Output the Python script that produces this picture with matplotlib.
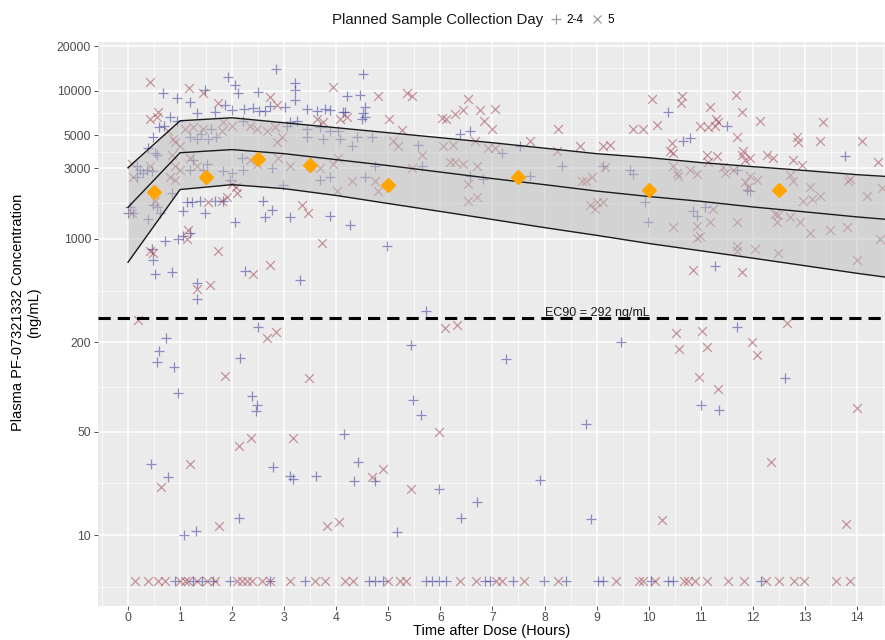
import numpy as np
import matplotlib
matplotlib.use("Agg")
import matplotlib.pyplot as plt
from matplotlib.lines import Line2D

plt.rcParams['font.family'] = ['Liberation Sans', 'DejaVu Sans']

# --- data ---
# Planned sample collection day 2-4 (plus markers): (hours, ng/mL)
pts_day24 = [
    (2.84, 14000), (1.92, 12400), (2.05, 10900), (1.48, 10100), (0.67, 9650),
    (0.94, 8900), (1.19, 8400), (2.12, 9650), (2.50, 9800), (3.20, 11200),
    (3.20, 10100), (3.20, 8700), (3.02, 7700), (2.22, 7500), (2.40, 7600),
    (2.52, 7300), (2.63, 7300), (2.72, 7900), (3.44, 7500), (3.63, 7300),
    (3.78, 7500), (1.33, 7100), (1.67, 7200), (1.87, 8000), (2.00, 7400),
    (0.80, 6600), (0.94, 6200), (0.60, 5700), (0.70, 5800), (2.20, 6200),
    (1.60, 5500), (1.70, 4900), (1.40, 5100), (1.20, 4900), (1.33, 4700),
    (1.54, 4700), (3.24, 6200), (3.44, 5500), (3.69, 5700), (3.88, 5300),
    (4.03, 5300), (3.44, 4900), (3.75, 4700), (3.05, 5800), (3.11, 6100),
    (3.88, 7400), (4.13, 7200), (0.48, 4900), (0.52, 3800), (0.56, 3700),
    (0.38, 4100), (0.17, 3100), (0.23, 2900), (0.36, 2900), (0.46, 2850),
    (0.17, 2600), (0.29, 2800), (1.52, 3200), (1.45, 2900), (1.25, 3400),
    (1.19, 2900), (2.20, 2900), (2.00, 2800), (1.83, 2850), (1.96, 2500),
    (2.19, 3500), (2.98, 2300), (2.77, 3000), (3.69, 2500), (3.88, 2600),
    (0.04, 1650), (0.10, 1500), (0.00, 1500), (0.38, 1350), (0.48, 1700),
    (0.56, 1650), (0.62, 1500), (0.85, 2050), (1.06, 1530), (1.13, 1770),
    (1.23, 1770), (1.38, 1800), (1.48, 1500), (1.67, 1800), (1.83, 1800),
    (2.05, 1300), (2.60, 1800), (2.77, 1570), (2.63, 1400), (3.11, 1400),
    (3.88, 1430), (0.96, 1000), (1.06, 1050), (1.19, 1100), (0.71, 960),
    (0.46, 850), (0.48, 720), (0.52, 575), (0.85, 600), (2.25, 610),
    (3.30, 530), (1.33, 505),
    (4.51, 13000), (4.20, 9200), (4.45, 9400), (4.17, 7200), (4.55, 7700),
    (4.51, 7100), (4.50, 6400), (4.55, 6600), (6.37, 5100), (6.57, 5300),
    (4.07, 4700), (4.30, 4200), (4.40, 4900), (4.69, 4900), (5.57, 4300),
    (7.18, 3800), (7.53, 4200), (8.33, 3100), (5.65, 3100), (4.55, 2600),
    (4.74, 3100), (6.57, 2650), (6.82, 2550), (7.72, 2650), (4.26, 1230),
    (4.97, 900),
    (10.37, 7200), (11.51, 5800), (10.79, 4800), (10.66, 4600), (13.77, 3600),
    (9.12, 3100), (9.64, 2900), (9.70, 2750), (11.70, 2900), (11.95, 2100),
    (11.89, 2150), (9.93, 1770), (9.98, 1300), (10.85, 1530), (10.93, 1430),
    (11.08, 1650), (11.27, 660),
    (1.33, 392), (0.73, 214), (0.60, 175), (0.56, 148), (0.88, 137),
    (0.96, 91), (2.50, 254), (2.15, 157), (2.38, 87), (2.48, 75),
    (2.46, 69), (0.44, 30), (0.77, 24.5), (2.78, 28.6), (3.11, 24.9),
    (3.17, 23.8), (3.61, 25), (4.15, 48), (4.42, 31), (4.34, 23),
    (4.75, 23), (1.08, 10), (1.31, 10.6), (2.13, 13), (5.17, 10.5),
    (5.72, 325), (5.43, 192), (5.47, 81), (5.63, 65), (5.97, 20.6),
    (6.40, 13), (6.70, 16.6), (7.26, 155), (8.80, 56.5), (7.91, 23.4),
    (8.90, 12.8), (9.47, 201), (11.70, 254), (11.00, 76), (11.35, 70),
    (12.62, 115),
]

# Planned sample collection day 5 (cross markers): (hours, ng/mL)
pts_day5 = [
    (0.42, 11500), (1.17, 10400), (1.45, 9650), (1.73, 8200), (2.73, 9000),
    (3.94, 10600), (2.86, 8000), (0.58, 7200), (0.42, 6400), (0.56, 6600),
    (0.77, 5300), (1.83, 6100), (2.00, 5800), (1.80, 5300), (1.10, 5500),
    (0.86, 4700), (0.90, 4500), (1.00, 4200), (1.25, 5700), (1.44, 5500),
    (2.34, 5800), (2.48, 5500), (2.67, 5300), (2.82, 5700), (2.96, 4900),
    (2.86, 4500), (3.63, 6400), (3.75, 6100), (4.07, 6400), (4.20, 6600),
    (0.08, 3200), (0.42, 3100), (0.10, 2600), (0.85, 3700), (0.90, 3100),
    (0.80, 2600), (0.90, 2500), (1.19, 3500), (1.33, 3100), (1.00, 2900),
    (2.00, 2350), (2.08, 2250), (2.48, 3200), (2.34, 3400), (2.88, 3500),
    (3.11, 3100), (3.69, 3000), (3.50, 3100), (3.94, 3200), (4.03, 3500),
    (4.01, 2100), (0.08, 1500), (0.52, 1800), (1.54, 1770), (1.81, 1800),
    (1.90, 1900), (2.09, 2050), (3.34, 1700), (3.46, 1500), (1.15, 1150),
    (1.13, 1000), (0.42, 830), (0.48, 800), (1.73, 830), (3.73, 930),
    (2.73, 670), (2.40, 580), (1.57, 490), (1.33, 460),
    (4.80, 9150), (5.36, 9700), (5.45, 9150), (6.53, 8800), (5.01, 6400),
    (5.26, 5400), (6.03, 6500), (6.10, 6400), (6.28, 7000), (6.43, 7400),
    (6.76, 7400), (7.05, 7500), (6.84, 6200), (7.00, 5500), (8.26, 5500),
    (5.09, 4600), (5.19, 4200), (6.05, 4200), (6.24, 4300), (6.91, 4100),
    (7.05, 4100), (6.66, 4600), (7.72, 4600), (8.24, 3900), (8.68, 4200),
    (5.65, 3700), (5.45, 3000), (6.18, 3300), (6.28, 3300), (6.43, 3200),
    (6.70, 3100), (4.30, 2450), (4.74, 2450), (4.80, 2100), (6.53, 2350),
    (6.53, 1800), (6.70, 1900), (8.80, 2450), (8.72, 2450), (8.97, 1600),
    (10.06, 8800), (10.64, 9150), (10.62, 8200), (11.68, 9300), (11.18, 7700),
    (11.79, 7200), (12.14, 6200), (13.35, 6100), (9.70, 5500), (9.89, 5500),
    (10.16, 5900), (10.99, 5800), (11.14, 5700), (11.27, 5800), (11.33, 6100),
    (11.29, 6400), (11.70, 4900), (12.85, 4900), (12.87, 4500), (13.29, 4600),
    (14.10, 4600), (14.40, 3300), (9.26, 4300), (9.12, 4200), (10.41, 3900),
    (10.47, 3800), (10.45, 4400), (11.81, 3900), (11.79, 3700), (11.85, 3400),
    (11.95, 3500), (11.12, 3700), (11.31, 3600), (11.14, 3300), (12.39, 3500),
    (12.27, 3700), (12.77, 3400), (12.94, 3150), (9.16, 3050), (8.91, 2600),
    (10.47, 3100), (10.54, 2800), (10.56, 2650), (10.79, 2900), (10.93, 2750),
    (11.43, 3050), (11.47, 2800), (11.62, 2900), (11.95, 2650), (12.08, 2500),
    (11.91, 2250), (11.85, 2400), (12.72, 2700), (12.77, 2450), (13.10, 2250),
    (12.96, 1800), (13.14, 1850), (13.29, 1950), (13.87, 2550), (13.83, 2450),
    (14.19, 1950), (14.48, 2200), (9.00, 1770), (9.12, 1770), (8.87, 1700),
    (10.47, 1200), (10.93, 1220), (10.99, 1050), (11.24, 1600), (11.18, 1300),
    (10.93, 1020), (11.70, 1300), (12.46, 1300), (12.48, 1450), (12.42, 1480),
    (12.71, 1400), (12.90, 1300), (13.10, 1100), (13.48, 1150), (13.81, 1200),
    (11.70, 900), (12.04, 850), (12.48, 800), (14.00, 720), (14.44, 1000),
    (11.79, 600), (10.85, 620), (11.70, 830),
    (0.19, 285), (2.67, 214), (2.84, 236), (1.86, 119), (2.36, 45),
    (2.13, 40), (3.48, 115), (0.63, 21), (1.19, 30), (3.17, 45),
    (4.69, 24.5), (4.90, 28), (1.75, 11.5), (3.82, 11.5), (4.05, 12.3),
    (6.09, 250), (6.31, 262), (5.97, 50), (5.43, 20.6), (10.26, 12.6),
    (10.52, 231), (10.58, 181), (11.12, 185), (11.02, 239), (11.98, 201),
    (12.08, 164), (12.66, 270), (10.97, 117), (11.33, 97), (14.00, 72),
    (12.35, 31), (13.79, 11.8),
]

# samples below quantification, drawn on one row
blq_level = 4.9
blq_day24 = [0.90, 1.25, 1.42, 1.63, 1.96, 2.73, 3.40, 4.63, 4.74, 4.90,
             5.72, 5.83, 5.97, 6.10, 6.85, 6.96, 7.39, 7.99, 8.42, 9.02,
             9.13, 10.04, 10.38, 10.46, 12.15]
blq_day5 = [0.13, 0.38, 0.58, 0.71, 1.00, 1.10, 1.15, 1.32, 1.52, 1.67,
            2.09, 2.19, 2.28, 2.38, 2.57, 2.73, 3.11, 3.60, 3.79, 4.17,
            4.33, 4.99, 5.23, 5.34, 6.37, 6.69, 7.07, 7.18, 7.61, 8.26,
            9.37, 9.81, 9.90, 10.13, 10.67, 10.75, 10.90, 11.13, 11.52, 11.83,
            12.25, 12.50, 12.79, 12.98, 13.60, 13.87]

# model prediction band (median and interval)
band_time = [0, 1, 2, 3, 4, 5, 6, 7, 8, 9, 10, 11, 12, 13, 14, 14.6]
band_hi = [3020, 6260, 6560, 6070, 5620, 5200, 4810, 4450, 4090, 3755,
           3530, 3270, 3070, 2890, 2710, 2630]
band_mid = [1630, 3810, 4000, 3755, 3420, 3120, 2820, 2550, 2320, 2100,
            1930, 1790, 1640, 1520, 1405, 1350]
band_lo = [694, 2150, 2320, 2180, 1960, 1730, 1530, 1350, 1190, 1055,
           930, 830, 740, 658, 585, 548]

# binned observed medians (orange diamonds)
obs_time = [0.5, 1.5, 2.5, 3.5, 5.0, 7.5, 10.0, 12.5]
obs_conc = [2085, 2630, 3475, 3170, 2290, 2630, 2150, 2120]

ec90 = 292
y_breaks = [10, 50, 200, 1000, 3000, 5000, 10000, 20000]
x_breaks = list(range(0, 15))

# --- figure ---
fig = plt.figure(figsize=(8.85, 6.4), dpi=100)
ax = fig.add_axes([98 / 885, 34 / 640, 787 / 885, 564 / 640])
ax.set_facecolor('#EBEBEB')
ax.set_yscale('log')
ax.set_xlim(-0.576, 14.54)
ax.set_ylim(3.32, 21300)

# ggplot-like grid (major + minor midpoints in log space)
logb = np.log10(y_breaks)
y_minor = 10 ** np.concatenate([[logb[0] - (logb[1] - logb[0]) / 2],
                                (logb[:-1] + logb[1:]) / 2])
for v in y_breaks:
    ax.axhline(v, color='white', lw=1.1, zorder=0)
for v in y_minor:
    ax.axhline(v, color='white', lw=0.5, zorder=0)
for v in x_breaks:
    ax.axvline(v, color='white', lw=1.1, zorder=0)
for v in np.arange(-0.5, 15, 1.0):
    ax.axvline(v, color='white', lw=0.5, zorder=0)

d24 = np.array(pts_day24)
d5 = np.array(pts_day5)
col24 = '#3b3b9e'
col5 = '#9e3b4a'
ax.scatter(d24[:, 0], d24[:, 1], marker='+', s=55, color=col24, alpha=0.55, linewidths=0.9, zorder=2)
ax.scatter(d5[:, 0], d5[:, 1], marker='x', s=40, color=col5, alpha=0.5, linewidths=0.9, zorder=2)
ax.scatter(blq_day24, [blq_level] * len(blq_day24), marker='+', s=55, color=col24, alpha=0.55, linewidths=0.9, zorder=2)
ax.scatter(blq_day5, [blq_level] * len(blq_day5), marker='x', s=40, color=col5, alpha=0.5, linewidths=0.9, zorder=2)

# prediction band over the points
ax.fill_between(band_time, band_lo, band_hi, color='#bdbdbd', alpha=0.5, lw=0, zorder=3)
for series in (band_hi, band_mid, band_lo):
    ax.plot(band_time, series, color='#1a1a1a', lw=1.0, zorder=4)

ax.plot(obs_time, obs_conc, linestyle='none', marker='D', markersize=7,
        color='#FFA500', zorder=5)

ax.axhline(ec90, color='black', lw=2.2, dashes=(4, 2.3), zorder=4)
ax.text(8.0, ec90 * 0.99, f'EC90 = {ec90} ng/mL', fontsize=9, color='#1a1a1a',
        ha='left', va='bottom', zorder=6)

ax.set_yticks(y_breaks)
ax.set_yticklabels([str(v) for v in y_breaks])
ax.yaxis.set_minor_locator(matplotlib.ticker.NullLocator())
ax.set_xticks(x_breaks)
ax.tick_params(axis='both', labelsize=8.8, labelcolor='#4D4D4D', color='#333333',
               length=3, width=0.6, pad=2)
ax.tick_params(axis='x', pad=1.5)
for sp in ax.spines.values():
    sp.set_visible(False)

ax.set_xlabel('Time after Dose (Hours)', fontsize=10.5, labelpad=0)
ax.set_ylabel('Plasma PF-07321332 Concentration\n(ng/mL)', fontsize=10.5)
ax.yaxis.set_label_coords(-0.072, 0.52)

# legend along the top
fig.text(332 / 885, 1 - 20 / 640, 'Planned Sample Collection Day', fontsize=10.8,
         ha='left', va='center', color='#1a1a1a')
handles = [Line2D([], [], marker='+', linestyle='none', color='#9a9a9a', markersize=7, markeredgewidth=0.9),
           Line2D([], [], marker='x', linestyle='none', color='#9a9a9a', markersize=5.5, markeredgewidth=0.9)]
fig.legend(handles, ['2-4', '5'], ncol=2, loc='center left',
           bbox_to_anchor=(550 / 885, 1 - 20 / 640), frameon=False,
           fontsize=8.5, handlelength=1.0, handletextpad=0.4,
           columnspacing=0.6, borderpad=0, borderaxespad=0)

fig.savefig('out.png', dpi=100)
